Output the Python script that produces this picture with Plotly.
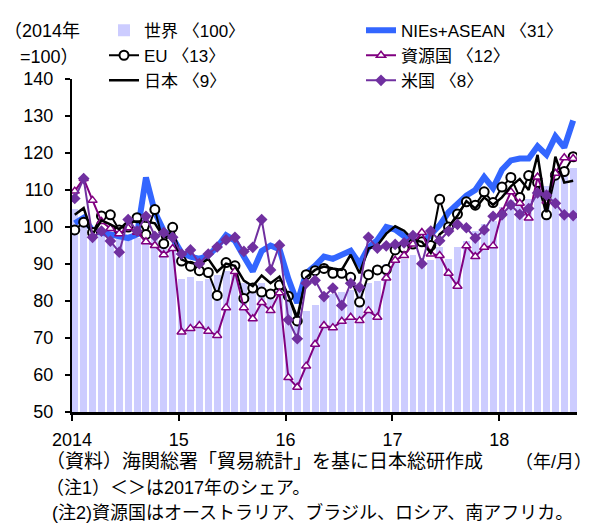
import plotly.graph_objects as go

months = [f"{y}-{m:02d}" for y in range(2014, 2019) for m in range(1, 13)][:57]

world = [105, 100, 98, 99, 98, 98, 98, 97, 97, 97, 96, 95,
         86, 86.5, 85.5, 86, 87, 88, 87, 85, 84, 85, 83, 85,
         82, 77, 77.4, 79, 80.7, 81.8, 82.5, 83, 84, 84.8, 85.3, 90,
         90.5, 91.4, 92.5, 90, 91, 94.5, 91.4, 94.5, 96.3, 98.9, 100.7, 101.5,
         105.5, 107.3, 107.3, 107.7, 112.5, 111, 113, 115.6, 116]

nies = [101, 102.5, 99, 98.5, 98, 97.5, 97, 98, 113.4, 104, 99, 97,
        93, 92, 91.4, 92.3, 94.6, 97.8, 96.3, 92, 88, 93.5, 95, 94,
        86, 79.5, 87.5, 89.5, 92, 91.4, 92.5, 93.6, 90, 94.5, 96.5, 100,
        99.3, 97.5, 96.3, 95.5, 98, 100.5, 104, 106.5, 108.5, 110, 113.5, 110.5,
        115.5, 118, 118.5, 118.5, 121.8, 119.5, 124.5, 121.5, 128.8]

eu = [99.2, 101.3, 98.5, 103, 103.3, 99.2, 100, 102.5, 98, 104.7, 95.5, 99.9,
      90.8, 89.4, 88.2, 87.7, 81.5, 90.4, 89.5, 80.7, 83.5, 82.4, 81.9, 84.3,
      81.3, 74.6, 87.1, 88.2, 88.8, 87.5, 87.5, 86.4, 79.7, 87.1, 88.4, 88.5,
      93.8, 94.3, 95.4, 96, 95, 107.5, 100, 103.5, 106.8, 105.9, 109.5, 106.6,
      110.8, 113.4, 108, 113.9, 112, 103.3, 114, 115, 119]

resource = [109.7, 113.1, 107.2, 101.5, 99.6, 98.2, 99.8, 98.6, 96, 95, 92.5, 94.2,
            71.6, 72.6, 73.4, 71.8, 70.7, 78.2, 88, 78.2, 75.2, 79.6, 77.4, 82.2,
            59.3, 56.7, 62.4, 68.3, 73.4, 72.8, 74.5, 75.6, 74.7, 77.4, 75.6, 86.2,
            91, 92.3, 95.4, 98.5, 92.7, 92.3, 87.5, 84, 94.9, 92, 94.5, 94.9,
            104, 109.5, 106.4, 102.4, 113.5, 107, 114.5, 118.7, 118.5]

japan = [103.3, 105.1, 98, 101.8, 100.7, 99.4, 101.5, 101.6, 101.5, 101, 97.2, 97.6,
         91.2, 90.3, 89.9, 91.4, 87.9, 90.1, 89.5, 85.5, 84, 86.9, 84.8, 86.6,
         81.5, 75.6, 86.4, 88.4, 89.3, 88.8, 88.4, 92.5, 87.5, 94.2, 95, 98.2,
         100.2, 99, 96.5, 96, 93, 98, 100, 103, 107, 105, 108, 106,
         108, 111, 113, 110, 119.5, 104, 119, 112, 112.5]

usa = [107.7, 113.1, 97.2, 98.9, 96.2, 93.2, 102, 98.9, 102.9, 97.5, 98.5, 97.2,
       92.7, 93.8, 90.1, 92.7, 94.6, 96.5, 97.2, 93.4, 94.5, 102, 88.4, 95.1,
       74.9, 69.8, 84.8, 85.6, 81.2, 83.5, 78.8, 84.8, 83.7, 97.2, 94.3, 94.9,
       95.3, 95.7, 97.7, 90.1, 98.9, 96.3, 98.9, 100.7, 99.8, 97, 99.2, 102.9,
       103.3, 106, 103.4, 105, 109.2, 108.6, 106.4, 103.3, 103.1]

year_labels = ["2014", "15", "16", "17", "18"]

x = list(range(len(months)))
FONT = "Liberation Sans, Arial, Noto Sans CJK JP"
JFONT = "Liberation Sans, Noto Sans CJK JP"

fig = go.Figure()
fig.add_trace(go.Bar(x=x, y=world, name="世界 〈100〉", marker=dict(color="#ccccff", line=dict(width=0)),
                     width=0.78, legend="legend"))
fig.add_trace(go.Scatter(x=x, y=nies, name="NIEs+ASEAN 〈31〉", mode="lines",
                         line=dict(color="#3366ff", width=6), legend="legend2"))
fig.add_trace(go.Scatter(x=x, y=eu, name="EU 〈13〉", mode="lines+markers",
                         line=dict(color="black", width=2),
                         marker=dict(symbol="circle", size=9, color="white", line=dict(color="black", width=2)),
                         legend="legend"))
fig.add_trace(go.Scatter(x=x, y=resource, name="資源国 〈12〉", mode="lines+markers",
                         line=dict(color="#800080", width=2),
                         marker=dict(symbol="triangle-up", size=8, color="white", line=dict(color="#800080", width=1.5)),
                         legend="legend2"))
fig.add_trace(go.Scatter(x=x, y=japan, name="日本 〈9〉", mode="lines",
                         line=dict(color="black", width=2.5), legend="legend"))
fig.add_trace(go.Scatter(x=x, y=usa, name="米国 〈8〉", mode="lines+markers",
                         line=dict(color="#7030a0", width=2),
                         marker=dict(symbol="diamond", size=9, color="#7030a0"),
                         legend="legend2"))

L, R, T, B = 72, 19, 71, 113
W, H = 596, 525
pw, ph = W - L - R, H - T - B

def px(xp):
    return (xp - L) / pw

def py(yp):
    return (H - B - yp) / ph

tickpos = [-0.31 + 12 * k for k in range(len(year_labels))]

leg_common = dict(xanchor="left", yanchor="top", bgcolor="rgba(0,0,0,0)",
                  font=dict(size=17, family=JFONT), traceorder="normal")

fig.update_layout(
    width=W, height=H, margin=dict(l=L, r=R, t=T, b=B, pad=0),
    paper_bgcolor="white", plot_bgcolor="white",
    font=dict(family=FONT, size=18, color="black"),
    bargap=0,
    showlegend=True,
    legend=dict(x=px(104), y=py(3), **leg_common),
    legend2=dict(x=px(361), y=py(3), **leg_common),
    xaxis=dict(range=[-0.31, 56.43], tickvals=tickpos, ticktext=year_labels,
               showline=True, linecolor="black", linewidth=3, ticks="outside", ticklen=6,
               tickwidth=2, tickcolor="black", showgrid=False, zeroline=False,
               tickfont=dict(size=18), ticklabelstandoff=3),
    yaxis=dict(range=[50, 140], dtick=10, showline=True, linecolor="black", linewidth=2,
               ticks="outside", ticklen=5, tickwidth=2, tickcolor="black", showgrid=False,
               zeroline=False, tickfont=dict(size=18), ticklabelstandoff=8),
)

ann = [
    dict(text="（2014年", x=px(2), y=py(22), xanchor="left", size=18),
    dict(text="=100）", x=px(18), y=py(48), xanchor="left", size=18),
    dict(text="（資料）海関総署「貿易統計」を基に日本総研作成", x=px(44), y=py(463), xanchor="left", size=19),
    dict(text="（年/月）", x=px(594), y=py(463), xanchor="right", size=18),
    dict(text="（注1）＜＞は2017年のシェア。", x=px(44), y=py(490), xanchor="left", size=18),
    dict(text="(注2)資源国はオーストラリア、ブラジル、ロシア、南アフリカ。", x=px(50), y=py(515), xanchor="left", size=18),
]
for a in ann:
    size = a.pop("size")
    fig.add_annotation(xref="paper", yref="paper", yanchor="middle", showarrow=False,
                       font=dict(size=size, family=JFONT), **a)

fig.write_html("out.html")
